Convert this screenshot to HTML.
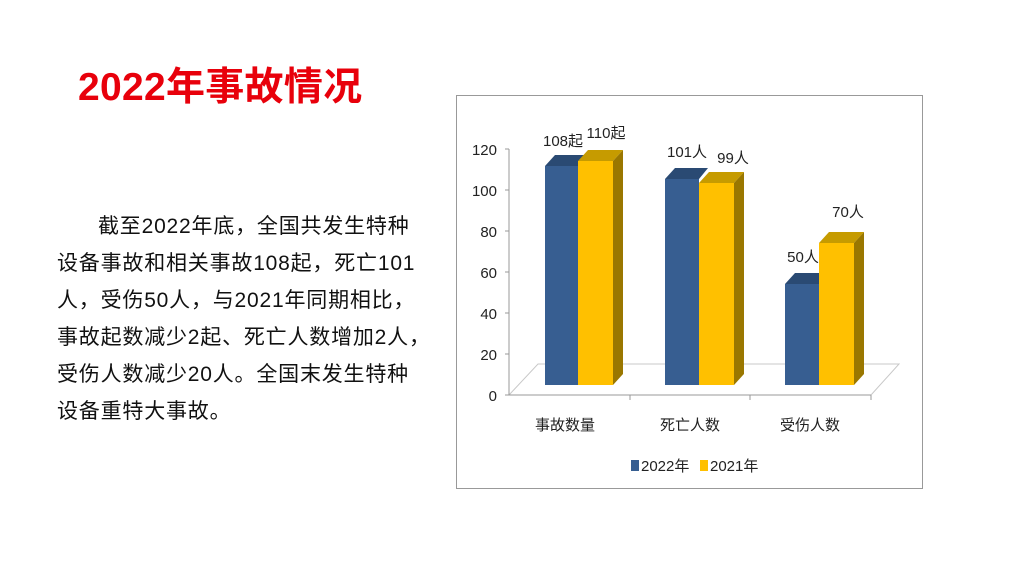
<!DOCTYPE html>
<html><head><meta charset="utf-8"><style>
body{margin:0;width:1024px;height:576px;background:#fff;overflow:hidden;position:relative;font-family:"Liberation Sans","Noto Sans CJK SC",sans-serif}
.t{position:absolute;left:78px;top:64px;font-size:39px;font-weight:bold;color:#e8000b;white-space:nowrap;line-height:48px;letter-spacing:0.3px}
.l{position:absolute;left:57px;font-size:21px;color:#111;white-space:nowrap;line-height:26px;letter-spacing:0.8px}
</style></head><body>
<div class="t">2022年事故情况</div>
<div class="l" style="top:214px;left:98px">截至2022年底，全国共发生特种</div>
<div class="l" style="top:251px">设备事故和相关事故108起，死亡101</div>
<div class="l" style="top:288px">人，受伤50人，与2021年同期相比，</div>
<div class="l" style="top:325px">事故起数减少2起、死亡人数增加2人，</div>
<div class="l" style="top:362px">受伤人数减少20人。全国末发生特种</div>
<div class="l" style="top:399px">设备重特大事故。</div>
<svg style="position:absolute;left:0;top:0" width="1024" height="576" font-family="Liberation Sans, Noto Sans CJK SC, sans-serif">
<rect x="456.5" y="95.5" width="466" height="393" fill="#fff" stroke="#999"/>
<g stroke="#c8c8c8" fill="none">
<polyline points="509,395 538,364 899,364 871,395"/>
</g>
<g stroke="#999" fill="none">
<line x1="509" y1="149" x2="509" y2="395"/>
<line x1="509" y1="395" x2="871" y2="395"/>
<line x1="505" y1="149" x2="509" y2="149"/><line x1="505" y1="190" x2="509" y2="190"/>
<line x1="505" y1="231" x2="509" y2="231"/><line x1="505" y1="272" x2="509" y2="272"/>
<line x1="505" y1="313" x2="509" y2="313"/><line x1="505" y1="354" x2="509" y2="354"/>
<line x1="505" y1="395" x2="509" y2="395"/>
<line x1="630" y1="395" x2="630" y2="400"/><line x1="750" y1="395" x2="750" y2="400"/><line x1="871" y1="395" x2="871" y2="400"/>
</g>
<g font-size="15" fill="#222" text-anchor="end">
<text x="497" y="155">120</text><text x="497" y="196">100</text><text x="497" y="237">80</text>
<text x="497" y="278">60</text><text x="497" y="319">40</text><text x="497" y="360">20</text><text x="497" y="401">0</text>
</g>
<g>
<polygon points="545,166 555,155 588,155 578,166" fill="#2a4a73"/>
<rect x="545" y="166" width="33" height="219" fill="#375e91"/>
<polygon points="578,161 588,150 623,150 613,161" fill="#c69b00"/>
<polygon points="613,161 623,150 623,374 613,385" fill="#9a7700"/>
<rect x="578" y="161" width="35" height="224" fill="#ffc000"/>

<polygon points="665,179 675,168 708,168 699,179" fill="#2a4a73"/>
<rect x="665" y="179" width="34" height="206" fill="#375e91"/>
<polygon points="699,183 709,172 744,172 734,183" fill="#c69b00"/>
<polygon points="734,183 744,172 744,374 734,385" fill="#9a7700"/>
<rect x="699" y="183" width="35" height="202" fill="#ffc000"/>

<polygon points="785,284 795,273 828,273 819,284" fill="#2a4a73"/>
<rect x="785" y="284" width="34" height="101" fill="#375e91"/>
<polygon points="819,243 829,232 864,232 854,243" fill="#c69b00"/>
<polygon points="854,243 864,232 864,374 854,385" fill="#9a7700"/>
<rect x="819" y="243" width="35" height="142" fill="#ffc000"/>
</g>
<g font-size="15" fill="#222" text-anchor="middle">
<text x="563" y="146">108起</text><text x="606" y="138">110起</text>
<text x="687" y="157">101人</text><text x="733" y="163">99人</text>
<text x="803" y="262">50人</text><text x="848" y="217">70人</text>
<text x="565" y="430">事故数量</text><text x="690" y="430">死亡人数</text><text x="810" y="430">受伤人数</text>
</g>
<rect x="631" y="460" width="8" height="11" fill="#375e91"/>
<text x="641" y="471" font-size="15" fill="#222">2022年</text>
<rect x="700" y="460" width="8" height="11" fill="#ffc000"/>
<text x="710" y="471" font-size="15" fill="#222">2021年</text>
</svg>
</body></html>
